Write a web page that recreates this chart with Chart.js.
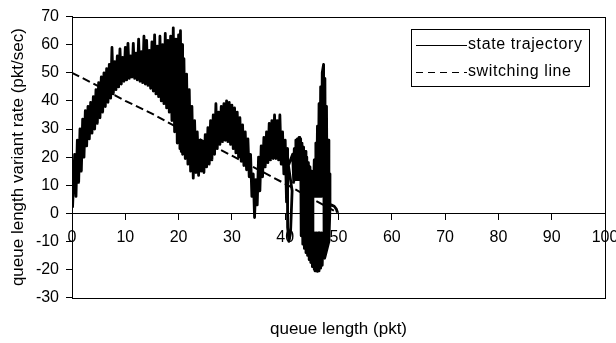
<!DOCTYPE html>
<html>
<head>
<meta charset="utf-8">
<script src="https://cdn.jsdelivr.net/npm/chart.js@4.4.0/dist/chart.umd.min.js"></script>
<style>
  html, body { margin: 0; padding: 0; background: #fff; }
  #wrap { width: 616px; height: 343px; }
</style>
</head>
<body>
<div id="wrap"><canvas id="phaseChart"></canvas></div>
<script>
// state trajectory: [queue length (pkt), variant rate (pkt/sec)]
const trajPoints = [
    [0.1, 2], [0.5, 21], [0.75, 6], [1.0, 26], [1.25, 11], [1.5, 30], [1.75, 15], [2.0, 33.5], [2.25, 20], [2.5, 36.5],
    [2.75, 24], [3.0, 38], [3.25, 26.5], [3.5, 39.5], [3.75, 28.5], [4.0, 41.5], [4.25, 30], [4.5, 44], [4.75, 32], [5.0, 46.5],
    [5.25, 34], [5.5, 48.5], [5.75, 36], [6.0, 50], [6.25, 38], [6.5, 51.5], [6.75, 39.5], [7.0, 53], [7.25, 41], [7.5, 59],
    [7.75, 42.5], [8.0, 54], [8.25, 44], [8.5, 56], [8.75, 45], [9.0, 58.5], [9.25, 46], [9.5, 55.5], [9.75, 47], [10.0, 59],
    [10.25, 47.5], [10.5, 60.5], [10.75, 48], [11.0, 56], [11.25, 48.5], [11.5, 60.5], [11.75, 48], [12.0, 57], [12.25, 47.5], [12.5, 62],
    [12.75, 47], [13.0, 57.5], [13.25, 46.5], [13.5, 63], [13.75, 46], [14.0, 61.5], [14.25, 45.5], [14.5, 58], [14.75, 44.5], [15.0, 61],
    [15.25, 43.5], [15.5, 63.5], [15.75, 42.5], [16.0, 59.5], [16.25, 41.5], [16.5, 63], [16.75, 40], [17.0, 60], [17.25, 39], [17.5, 64],
    [17.75, 37.5], [18.0, 61.5], [18.25, 36], [18.5, 63], [18.75, 33], [19.0, 66], [19.25, 29], [19.5, 62], [19.75, 25], [20.0, 63.5],
    [20.25, 23], [20.35, 65], [20.5, 22], [20.65, 60], [20.75, 21], [21.0, 55], [21.25, 19.5], [21.5, 49.5], [21.75, 17.5], [22.0, 44],
    [22.25, 15], [22.5, 38], [22.75, 12.5], [23.0, 33], [23.25, 14.5], [23.5, 29], [23.75, 13.5], [24.0, 26], [24.25, 15], [24.5, 25.5],
    [24.75, 14.5], [25.0, 28], [25.25, 16.5], [25.5, 30.5], [25.75, 17.5], [26.0, 33], [26.25, 19], [26.5, 35], [26.75, 21], [27.0, 39],
    [27.25, 23], [27.5, 36], [27.75, 24.5], [28.0, 38], [28.25, 25.5], [28.5, 39], [28.75, 26], [29.0, 40], [29.25, 25.5], [29.5, 39.5],
    [29.75, 24.5], [30.0, 38.5], [30.25, 23], [30.5, 37.5], [30.75, 21.5], [31.0, 36], [31.25, 20], [31.5, 34], [31.75, 18.5], [32.0, 31.5],
    [32.25, 17], [32.5, 29], [32.75, 15.5], [33.0, 26.5], [33.25, 13], [33.5, 21], [33.75, 6], [34.0, 14], [34.25, -1.5], [34.5, 12],
    [34.75, 3], [35.0, 20], [35.25, 8], [35.5, 24], [35.75, 13], [36.0, 27], [36.25, 16.5], [36.5, 29], [36.75, 18], [37.0, 32],
    [37.25, 19], [37.5, 33], [37.75, 19.5], [38.0, 35], [38.25, 19.5], [38.5, 33], [38.75, 19], [39.0, 35], [39.25, 17.5], [39.5, 29],
    [39.75, 14], [40.0, 26], [40.25, 4], [40.4, 23], [40.45, -5], [40.7, -10], [41.0, -7], [41.3, 8], [40.6, 17], [41.4, 21],
    [41.6, 11], [41.7, 23], [41.85, 12], [42.0, 26], [42.15, 12], [42.3, 26.5], [42.45, 12], [42.6, 27], [42.75, 12], [42.9, 26.5],
    [43.0, -8], [43.15, 25], [43.3, -11], [43.45, 23.5], [43.6, -12.5], [43.75, 22], [43.9, -14], [44.05, 20], [44.2, -15], [44.35, 18],
    [44.5, -16.5], [44.65, 16.5], [44.8, -17.5], [44.95, 15], [45.1, -19], [45.2, 14], [45.3, 6], [45.45, 19], [45.6, 6], [45.75, 25],
    [45.9, 6], [46.05, 31], [46.2, 6], [46.35, 39], [46.5, 6], [46.65, 45], [46.8, 6], [46.95, 50], [47.2, 53], [47.3, -14],
    [47.45, 48], [47.6, -13], [47.75, 38], [47.9, -10], [48.05, 26], [48.2, -5], [48.35, 14], [48.4, 2], [48.2, -10], [47.4, -16],
    [47.1, -7], [46.95, -18.5], [46.8, -7], [46.65, -19.5], [46.5, -7], [46.35, -20.5], [46.2, -7], [46.05, -20.7], [45.9, -7], [45.75, -20.5],
    [45.6, -7], [45.45, -20], [45.3, -7], [45.2, -18], [47.3, -12], [48.1, 2], [48.6, 3], [49.2, 2.5], [49.6, 1.5], [49.8, 0.3]
];

// switching line
const switchPoints = [[0, 50], [5, 45.2], [10, 40], [15, 35.5], [20, 30.3], [30, 20.5], [40, 10.5], [50, 0]];

const seriesNames = ["state trajectory", "switching line"];

const fontFamily = "'Liberation Sans', Arial, sans-serif";

// box round the plot area
const frameBox = {
    id: "frameBox",
    afterDatasetsDraw(chart) {
        const {ctx, chartArea} = chart;
        ctx.save();
        ctx.strokeStyle = "#000";
        ctx.lineWidth = 1;
        const l = Math.round(chartArea.left) + 0.5;
        const t = Math.round(chartArea.top) + 0.5;
        const r = Math.round(chartArea.right) + 0.5;
        const b = Math.round(chartArea.bottom) + 0.5;
        ctx.strokeRect(l, t, r - l, b - t);
        ctx.restore();
    }
};

// legend in a framed box, top right inside the plot
const boxLegend = {
    id: "boxLegend",
    afterDraw(chart) {
        const {ctx, chartArea} = chart;
        const left = Math.round(chartArea.right) - 194;
        const top = Math.round(chartArea.top) + 12;
        ctx.save();
        ctx.strokeStyle = "#000";
        ctx.fillStyle = "#fff";
        ctx.lineWidth = 1;
        ctx.fillRect(left, top, 178, 57);
        ctx.strokeRect(left + 0.5, top + 0.5, 178, 57);
        ctx.font = "16px " + fontFamily;
        ctx.letterSpacing = "0.6px";
        ctx.textBaseline = "middle";
        ctx.fillStyle = "#000";
        chart.data.datasets.forEach((ds, i) => {
            const y = top + 16 + i * 27;
            ctx.setLineDash(i === 1 ? [7, 5] : []);
            ctx.beginPath();
            ctx.moveTo(left + 5, y + 0.5);
            ctx.lineTo(left + 56, y + 0.5);
            ctx.stroke();
            ctx.setLineDash([]);
            ctx.fillText(ds.label, left + 57, y);
        });
        ctx.restore();
    }
};

new Chart(document.getElementById("phaseChart"), {
    type: "scatter",
    data: {
        datasets: [
            {
                label: seriesNames[0],
                data: trajPoints.map(p => ({x: p[0], y: p[1]})),
                showLine: true,
                borderColor: "#000",
                borderWidth: 2.8,
                borderJoinStyle: "round",
                pointRadius: 0,
                tension: 0
            },
            {
                label: seriesNames[1],
                data: switchPoints.map(p => ({x: p[0], y: p[1]})),
                showLine: true,
                borderColor: "#000",
                borderWidth: 2,
                borderDash: [8, 4],
                pointRadius: 0,
                tension: 0
            }
        ]
    },
    options: {
        responsive: true,
        maintainAspectRatio: false,
        animation: false,
        devicePixelRatio: 1,
        layout: {padding: {left: 0, right: 11, top: 12, bottom: 0}},
        plugins: {
            legend: {display: false},
            tooltip: {enabled: false},
            title: {
                display: true,
                position: "bottom",
                fullSize: false,
                text: "queue length (pkt)",
                color: "#000",
                font: {family: fontFamily, size: 17, weight: "normal"},
                padding: {top: 22, bottom: 3}
            }
        },
        scales: {
            x: {
                type: "linear",
                position: {y: 0},
                min: 0,
                max: 100,
                ticks: {stepSize: 10, autoSkip: false, maxRotation: 0, color: "#000", font: {family: fontFamily, size: 16}, padding: 9},
                grid: {drawOnChartArea: false, drawTicks: true, tickLength: 6, tickColor: "#000"},
                border: {color: "#000", width: 1},
                afterFit(scale) {
                    scale.paddingLeft = 0;
                    scale.paddingRight = 0;
                }
            },
            y: {
                type: "linear",
                min: -30,
                max: 70,
                ticks: {stepSize: 10, color: "#000", font: {family: fontFamily, size: 16}, padding: 7},
                grid: {drawOnChartArea: false, drawTicks: true, tickLength: 6, tickColor: "#000"},
                border: {color: "#000", width: 1},
                title: {
                    display: true,
                    text: "queue length variant rate (pkt/sec)",
                    color: "#000",
                    font: {family: fontFamily, size: 17},
                    padding: {top: 8, bottom: 0}
                },
                afterFit(scale) {
                    scale.width = 72;
                }
            }
        }
    },
    plugins: [frameBox, boxLegend]
});
</script>
</body>
</html>
